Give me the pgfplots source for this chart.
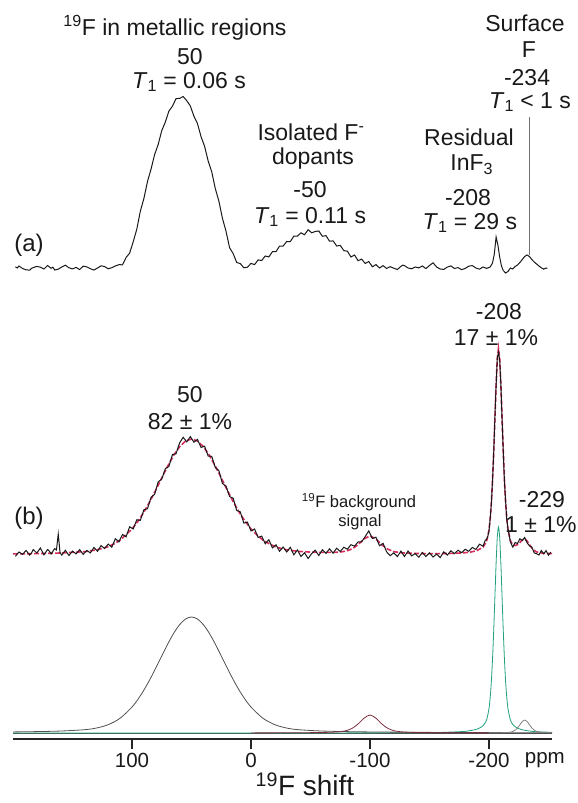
\documentclass[border=0pt]{standalone}
\usepackage{fontspec}
\setmainfont{Liberation Sans}
\usepackage{pgfplots}
\pgfplotsset{compat=1.18}
\definecolor{fitred}{RGB}{214,45,90}
\definecolor{compgreen}{RGB}{30,160,125}
\definecolor{compgray}{RGB}{80,80,80}
\definecolor{compred}{RGB}{125,45,60}
\definecolor{txt}{RGB}{25,25,25}
\tikzset{lbl/.style={font=\fontsize{23}{25}\selectfont, text=txt, inner sep=0pt}}
\begin{document}
\begin{tikzpicture}
\useasboundingbox (0,0) rectangle (578pt,803pt);
\begin{axis}[
  scale only axis, width=539pt, height=739pt,
  at={(251pt,64pt)}, anchor=origin,
  xmin=-253, xmax=200, ymin=0, ymax=739, x dir=reverse,
  axis x line*=bottom, axis y line=none,
  x axis line style={line width=1.8pt, color=black!85},
  xtick={100,0,-100,-200}, xticklabels={100,0,-100,-200},
  major tick length=10pt, tick align=outside,
  xtick style={line width=1.2pt, black!85},
  typeset ticklabels with strut,
  xticklabel style={font=\fontsize{20.5}{22}\selectfont, text=txt},
  clip=false,
]
% ---- (a) spectrum
\addplot[line width=1pt, black!90] coordinates {
(198,472.2)(196.5,471.0)(195,473.0)(192,470.5)(189,469.2)(186,468.8)(184.5,470.6)(183,471.4)(180,472.6)(177,471.8)(174,470.0)(171,473.5)(168,470.7)(166.5,471.8)(165,469.0)(162,469.8)(159,472.0)(156,473.8)(154.5,472.5)(153,471.2)(150,470.1)(147,471.6)(144,469.4)(141,472.9)(138,472.1)(135,470.3)(132,468.9)(129,471.0)(127.5,472.0)(126,473.2)(123,472.4)(120,470.2)(117,471.3)(114,473.0)(111,474.3)(108,474.2)(105,481.5)(102,485.8)(99,497.2)(96,509.7)(93,527.8)(90,540.6)(87,557.4)(84,569.9)(81,584.4)(78,594.5)(75,608.4)(72,616.9)(69,627.9)(66,632.8)(63,640.4)(60,640.6)(57,642.4)(54,638.3)(51,633.1)(48,622.9)(45,615.5)(42,602.4)(39,592.7)(36,578.0)(33,567.2)(30,550.4)(27,537.9)(24,520.7)(21,507.8)(18,491.3)(15,485.4)(12,476.5)(9,475.4)(6,471.2)(3,471.8)(0,475.6)(-3,474.4)(-6,479.1)(-9,478.5)(-12,483.0)(-15,482.1)(-18,487.3)(-21,487.3)(-24,492.9)(-27,492.9)(-30,497.5)(-33,497.3)(-36,502.9)(-39,502.8)(-42,506.2)(-45,504.2)(-48,509.3)(-51,506.2)(-54,507.5)(-57,508.0)(-60,502.7)(-63,503.4)(-66,497.8)(-69,498.1)(-72,493.0)(-75,493.6)(-78,488.4)(-81,487.8)(-84,482.0)(-87,484.0)(-90,478.3)(-93,479.9)(-96,475.5)(-99,477.5)(-102,472.2)(-105,474.4)(-108,471.0)(-111,473.4)(-114,470.5)(-117,472.3)(-120,470.8)(-123,469.5)(-126,472.6)(-127.5,473.8)(-129,473.4)(-132,471.0)(-135,470.2)(-138,472.0)(-141,471.1)(-144,473.0)(-147,470.4)(-150,473.5)(-153,476.2)(-156,472.0)(-159,470.0)(-162,469.6)(-165,471.9)(-168,473.1)(-169.5,471.8)(-171,470.5)(-174,471.4)(-177,469.3)(-180,470.6)(-183,472.8)(-186,473.4)(-189,471.0)(-192,469.8)(-195,472.0)(-198,470.6)(-201,472.0)(-203,476.0)(-204.5,485.0)(-206,502.0)(-207.5,494.0)(-209,482.0)(-210.5,473.0)(-212,468.5)(-214,466.0)(-216,467.5)(-218,471.0)(-220,470.0)(-222,472.5)(-224,474.0)(-226,476.5)(-228,479.5)(-230,482.5)(-232,484.0)(-234,482.5)(-236,479.5)(-238,477.0)(-240,475.0)(-242,473.0)(-244,471.2)(-246,469.8)(-248,471.0)(-249,470.5)
};
% pointer line for surface F
\addplot[line width=0.6pt, black!55] coordinates {(-234,484) (-234,622)};
% ---- (b) fit (sum), red dashed
\addplot[line width=1.6pt, fitred, dash pattern=on 5pt off 2pt] coordinates {
(200,185.1)(190,185.2)(180,185.4)(170,185.7)(160,186.0)(150,186.7)(140,187.3)(130,189.0)(125,190.6)(120,192.3)(115,195.2)(110,198.8)(105,204.4)(100,210.0)(95,217.7)(90,226.9)(85,237.5)(80,249.0)(75,261.1)(70,272.9)(65,283.7)(60,292.3)(55,298.0)(50,300.0)(45,298.0)(40,292.3)(35,283.7)(30,272.9)(25,261.1)(20,249.0)(15,237.5)(10,226.9)(5,217.7)(0,210.1)(-5,204.0)(-10,198.9)(-15,195.4)(-20,192.5)(-25,190.6)(-30,189.2)(-40,187.6)(-50,186.9)(-60,186.6)(-70,186.6)(-75,187.0)(-80,187.9)(-85,190.1)(-90,194.3)(-95,200.0)(-100,203.2)(-105,200.0)(-110,194.1)(-115,189.8)(-120,187.4)(-125,186.4)(-130,185.9)(-140,185.5)(-150,185.4)(-160,185.4)(-170,185.6)(-180,186.3)(-185,187.0)(-190,188.5)(-195,191.8)(-198,197.6)(-200,208.8)(-201,219.7)(-202,235.9)(-203,258.6)(-204,287.6)(-205,321.0)(-206,354.4)(-207,380.5)(-208,390.7)(-209,380.6)(-210,354.5)(-211,321.2)(-212,287.8)(-213,258.9)(-214,236.2)(-215,220.0)(-216,209.3)(-218,198.2)(-220,194.4)(-222,193.5)(-224,194.3)(-226,196.4)(-228,199.1)(-230,200.0)(-232,198.1)(-234,194.4)(-236,191.0)(-238,188.6)(-240,187.1)(-245,185.8)(-250,185.5)(-253,185.3)
};
% ---- (b) spectrum
\addplot[line width=1pt, black!90] coordinates {
(198,182.6)(196.5,185.0)(195,187.0)(192,184.7)(189,188.5)(186,183.9)(184.5,186.0)(183,189.4)(180,186.0)(177,191.0)(174,184.1)(171,189.5)(169.5,188.0)(168,185.0)(165,190.4)(163.5,189.0)(162,205.0)(160.5,186.5)(159,183.9)(156,188.7)(153,183.5)(150,187.9)(147,185.1)(144,189.4)(141,184.6)(138,188.5)(135,186.1)(132,191.5)(129,187.7)(126,193.4)(123,190.5)(120,194.9)(117,191.8)(114,200.3)(111,197.2)(108,204.5)(105,202.2)(102,212.2)(99,210.0)(96,219.2)(93,218.6)(90,229.3)(87,230.2)(84,241.7)(81,244.7)(78,257.1)(75,259.9)(72,270.3)(69,272.5)(66,284.5)(63,285.2)(60,296.1)(57,301.7)(54,297.1)(51,302.4)(48,296.8)(45,299.6)(42,291.6)(39,292.8)(36,282.9)(33,282.7)(30,271.5)(27,268.4)(24,255.5)(21,252.9)(18,242.4)(15,240.8)(12,228.5)(9,227.1)(6,215.9)(3,216.9)(0,208.1)(-3,210.0)(-6,201.6)(-9,202.9)(-12,195.2)(-15,199.3)(-18,191.1)(-21,194.2)(-24,187.7)(-27,192.0)(-30,187.0)(-33,191.7)(-36,184.2)(-39,189.0)(-42,182.5)(-45,186.2)(-48,180.5)(-51,185.4)(-54,188.8)(-57,183.5)(-60,189.2)(-63,185.6)(-66,190.2)(-69,185.8)(-72,190.8)(-75,187.5)(-78,191.7)(-81,189.8)(-84,194.3)(-87,192.8)(-90,197.1)(-93,197.2)(-96,202.5)(-99,208.1)(-102,200.5)(-105,201.8)(-108,193.3)(-111,195.6)(-114,187.1)(-117,183.3)(-120,186.2)(-123,182.4)(-126,187.9)(-129,182.5)(-132,188.0)(-135,183.1)(-138,185.4)(-141,181.7)(-144,186.5)(-147,182.5)(-150,186.2)(-153,182.0)(-156,184.9)(-159,181.4)(-162,187.2)(-165,183.9)(-168,188.2)(-171,185.3)(-174,188.8)(-177,186.3)(-180,189.7)(-183,187.7)(-186,191.6)(-189,189.5)(-192,194.8)(-195,192.8)(-197,199.0)(-198,199.6)(-199,202.5)(-200,207.8)(-201,220.2)(-202,234.9)(-203,259.1)(-204,286.8)(-205,321.6)(-206,353.4)(-207,380.8)(-208,386.7)(-209,379.1)(-210,355.0)(-211,320.0)(-212,288.6)(-213,257.9)(-214,237.4)(-215,219.2)(-216,209.8)(-217,204.0)(-218,197.0)(-220,191.9)(-222,196.5)(-224,195.5)(-226,200.2)(-228,198.5)(-230,201.5)(-232,196.3)(-234,193.2)(-236,192.0)(-238,186.1)(-240,185.3)(-242,184.0)(-244,188.5)(-246,185.2)(-248,188.4)(-250,183.7)(-252,186.9)
};
% ---- fit components
\addplot[line width=0.8pt, compgray] coordinates {(200,6)(-253,6)};
\addplot[line width=0.8pt, compgreen, smooth, tension=0.4] coordinates {
(200,6.0)(0,6.04)(-100,6.13)(-150,6.39)(-160,6.57)(-180,7.65)(-190,9.88)(-195,13.2)(-198,19.0)(-200,30.2)(-201,41.1)(-202,57.3)(-203,80.0)(-204,109)(-205,142.4)(-206,175.8)(-207,201.9)(-208,212)(-209,201.9)(-210,175.8)(-211,142.4)(-212,109)(-213,80.0)(-214,57.3)(-215,41.1)(-216,30.2)(-218,19.0)(-220,14.5)(-223,11.5)(-228,9.2)(-238,7.4)(-253,6.7)
};
\addplot[line width=0.8pt, compgray, smooth, tension=0.5] coordinates {
(200,7.07)(180,7.40)(160,7.96)(140,9.28)(130,10.95)(120,14.33)(110,20.78)(100,31.95)(95,39.70)(90,48.92)(85,59.49)(80,71.04)(75,83.09)(70,94.91)(65,105.66)(60,114.33)(55,120.02)(50,122)(45,120.02)(40,114.33)(35,105.66)(30,94.91)(25,83.09)(20,71.04)(15,59.49)(10,48.92)(5,39.70)(0,31.95)(-10,20.78)(-20,14.33)(-30,10.95)(-40,9.28)(-60,7.96)(-80,7.40)(-100,7.07)(-150,6.61)(-200,6.39)(-253,6.28)
};
\addplot[line width=0.8pt, compred, smooth, tension=0.5] coordinates {
(0,6.09)(-40,6.24)(-60,6.53)(-70,6.92)(-75,7.36)(-80,8.36)(-85,10.66)(-90,15)(-95,20.77)(-100,24)(-105,20.77)(-110,15)(-115,10.66)(-120,8.36)(-125,7.36)(-130,6.92)(-140,6.53)(-160,6.24)(-200,6.09)
};
\addplot[line width=0.8pt, black!50, smooth, tension=0.5] coordinates {
(-200,6.14)(-210,6.31)(-215,6.54)(-218,6.82)(-220,7.53)(-222,8.83)(-224,11.07)(-226,14.2)(-228,17.6)(-230,19)(-232,17.6)(-234,14.2)(-236,11.07)(-238,8.83)(-240,7.53)(-243,6.8)(-248,6.45)(-253,6.33)
};
% ---- labels (a)
\node[lbl] at (axis cs:63.9,711) {\textsuperscript{19}F in metallic regions};
\node[lbl] at (axis cs:51.3,682) {50};
\node[lbl] at (axis cs:52.1,657) {\textit{T}\textsubscript{1} = 0.06 s};
\node[lbl] at (axis cs:-50.4,607) {Isolated F\textsuperscript{-}};
\node[lbl] at (axis cs:-52.1,580) {dopants};
\node[lbl] at (axis cs:-49.6,549) {-50};
\node[lbl] at (axis cs:-49.6,522) {\textit{T}\textsubscript{1} = 0.11 s};
\node[lbl] at (axis cs:-183.2,602) {Residual};
\node[lbl] at (axis cs:-185.5,574) {InF\textsubscript{3}};
\node[lbl] at (axis cs:-182.4,541) {-208};
\node[lbl] at (axis cs:-184,516) {\textit{T}\textsubscript{1} = 29 s};
\node[lbl] at (axis cs:-230.3,716) {Surface};
\node[lbl] at (axis cs:-233.6,689) {F};
\node[lbl] at (axis cs:-232,661) {-234};
\node[lbl] at (axis cs:-234.5,637) {\textit{T}\textsubscript{1} < 1 s};
\node[lbl, font=\fontsize{24}{26}\selectfont] at (axis cs:186.6,494) {(a)};
% ---- labels (b)
\node[lbl] at (axis cs:-208.4,427) {-208};
\node[lbl] at (axis cs:-205.9,401) {17 ± 1\%};
\node[lbl] at (axis cs:51.3,344) {50};
\node[lbl] at (axis cs:51.3,317) {82 ± 1\%};
\node[lbl, font=\fontsize{16.5}{18}\selectfont] at (axis cs:-90.8,237) {\textsuperscript{19}F background};
\node[lbl, font=\fontsize{16.5}{18}\selectfont] at (axis cs:-91.6,217) {signal};
\node[lbl] at (axis cs:-244.5,239) {-229};
\node[lbl] at (axis cs:-243.7,214) {1 ± 1\%};
\node[lbl, font=\fontsize{24}{26}\selectfont] at (axis cs:186.6,221) {(b)};
% ---- axis texts
\node[lbl, font=\fontsize{20.5}{22}\selectfont] at (axis cs:-247,-21) {ppm};
\node[lbl, font=\fontsize{28}{30}\selectfont] at (axis cs:-45.4,-45) {\textsuperscript{19}F shift};
\end{axis}
\end{tikzpicture}
\end{document}
